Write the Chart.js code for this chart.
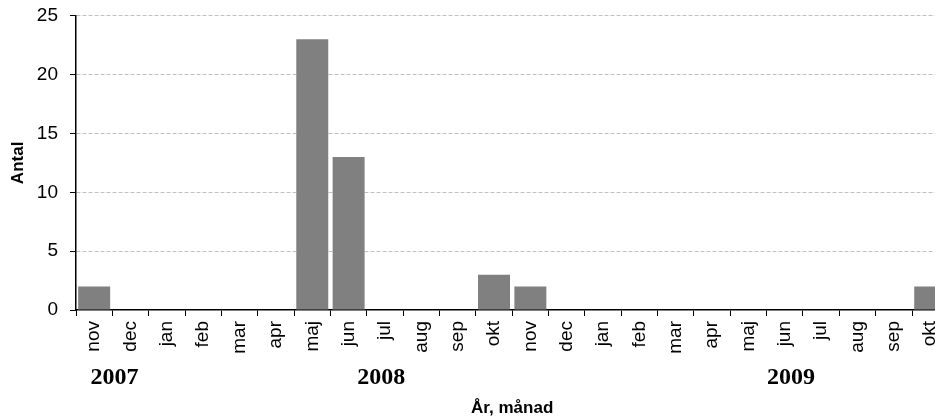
<!DOCTYPE html>
<html>
<head>
<meta charset="utf-8">
<script src="https://cdn.jsdelivr.net/npm/chart.js@4"></script>
<style>
  body { margin: 0; overflow: hidden; background: #fff; }
  #wrap { width: 958px; height: 416px; }
</style>
</head>
<body>
<div id="wrap"><canvas id="chart" width="958" height="416"></canvas></div>
<script>
var months = ['nov', 'dec', 'jan', 'feb', 'mar', 'apr', 'maj', 'jun', 'jul', 'aug', 'sep', 'okt',
              'nov', 'dec', 'jan', 'feb', 'mar', 'apr', 'maj', 'jun', 'jul', 'aug', 'sep', 'okt'];
var antal = [2, 0, 0, 0, 0, 0, 23, 13, 0, 0, 0, 3, 2, 0, 0, 0, 0, 0, 0, 0, 0, 0, 0, 2];
var years = ['2007', '2008', '2009'];
var yTicks = [0, 5, 10, 15, 20, 25];

// year labels under the month ticks, plus the x axis title
var yearLabels = {
  id: 'yearLabels',
  afterDraw: function(chart) {
    var ctx = chart.ctx;
    var x = chart.scales.x;
    var step = x.width / months.length;
    var where = [1.06, 8.4, 19.67];
    ctx.save();
    ctx.fillStyle = '#000';
    ctx.textAlign = 'center';
    ctx.textBaseline = 'middle';
    ctx.font = 'bold 24px "Liberation Serif", "Times New Roman", serif';
    years.forEach(function(y, i) {
      ctx.fillText(y, x.left + where[i] * step, 378);
    });
    ctx.font = 'bold 17px "Liberation Sans", Arial, sans-serif';
    ctx.fillText('År, månad', (x.left + x.right) / 2, 408);
    ctx.restore();
  }
};

new Chart(document.getElementById('chart'), {
  type: 'bar',
  data: {
    labels: months,
    datasets: [{
      label: 'Antal',
      data: antal,
      backgroundColor: '#808080',
      barPercentage: 0.88,
      categoryPercentage: 1.0
    }]
  },
  options: {
    responsive: false,
    animation: false,
    devicePixelRatio: 1,
    layout: { padding: 0 },
    plugins: { legend: { display: false }, tooltip: { enabled: false } },
    scales: {
      x: {
        afterFit: function(scale) { scale.height = 106; },
        grid: {
          offset: true,
          drawOnChartArea: false,
          tickLength: 6,
          tickColor: '#000'
        },
        border: { color: '#000', width: 1.5 },
        ticks: {
          minRotation: 90,
          maxRotation: 90,
          autoSkip: false,
          padding: 5,
          color: '#000',
          font: { family: '"Liberation Sans", Arial, sans-serif', size: 19 }
        }
      },
      y: {
        min: 0,
        max: 25,
        afterFit: function(scale) { scale.width = 76; },
        afterBuildTicks: function(scale) {
          scale.ticks = yTicks.map(function(v) { return { value: v }; });
        },
        grid: {
          color: function(c) { return c.tick && c.tick.value === 0 ? 'rgba(0,0,0,0)' : '#c0c0c0'; },
          tickColor: '#000',
          tickLength: 6,
          tickBorderDash: [100, 0]
        },
        border: { color: '#000', width: 1.5, dash: [4, 2] },
        ticks: {
          padding: 12,
          color: '#000',
          font: { family: '"Liberation Sans", Arial, sans-serif', size: 19, lineHeight: 0.4 }
        },
        title: {
          display: true,
          text: 'Antal',
          color: '#000',
          padding: { top: 8, bottom: 0 },
          font: { family: '"Liberation Sans", Arial, sans-serif', size: 17, weight: 'bold' }
        }
      }
    }
  },
  plugins: [yearLabels]
});
</script>
</body>
</html>
